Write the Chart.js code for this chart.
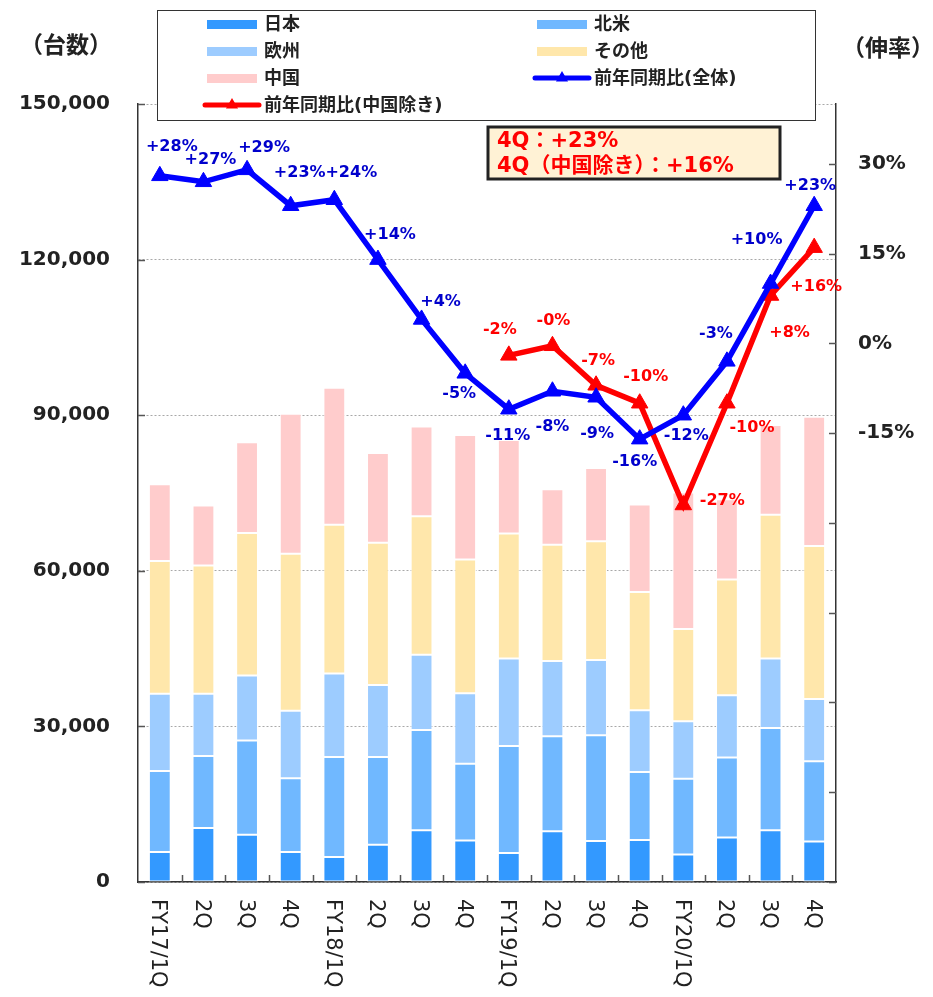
<!DOCTYPE html>
<html lang="ja">
<head>
<meta charset="utf-8">
<title>地域別台数と前年同期比</title>
<script src="https://cdn.jsdelivr.net/npm/chart.js@4.4.1/dist/chart.umd.min.js"></script>
<style>
  html, body { margin: 0; padding: 0; background: #fff; }
  #wrap { position: relative; width: 933px; height: 997px; }
</style>
</head>
<body>
<div id="wrap"><canvas id="chart" width="933" height="997"></canvas></div>
<script>
// ---- Data ------------------------------------------------------------------
const CATEGORIES = ["FY17/1Q", "2Q", "3Q", "4Q", "FY18/1Q", "2Q", "3Q", "4Q",
                    "FY19/1Q", "2Q", "3Q", "4Q", "FY20/1Q", "2Q", "3Q", "4Q"];

const JAPAN         = [5800, 10400, 9100, 5800, 4800, 7200, 10000, 8000, 5600, 9800, 7900, 8100, 5300, 8600, 10000, 7800];
const NORTH_AMERICA = [15600, 13900, 18200, 14200, 19300, 16900, 19300, 14800, 20600, 18300, 20400, 13100, 14600, 15400, 19700, 15500];
const EUROPE        = [14900, 12000, 12500, 13000, 16100, 13900, 14500, 13600, 16900, 14500, 14500, 11900, 11100, 12000, 13400, 12000];
const OTHERS        = [25600, 24700, 27500, 30300, 28700, 27400, 26700, 25800, 24100, 22400, 22900, 22800, 17800, 22300, 27700, 29500];
const CHINA         = [14800, 11600, 17500, 27000, 26400, 17300, 17300, 24000, 18000, 10700, 14100, 16900, 26300, 15500, 17300, 24900];

// 前年同期比 (%)
const YOY_TOTAL    = [28, 27, 29, 23, 24, 14, 4, -5, -11, -8, -9, -16, -12, -3, 10, 23];
const YOY_EX_CHINA = [null, null, null, null, null, null, null, null, -2, -0.4, -7, -10, -27, -10, 8, 16];

const LEFT_TICKS = [0, 30000, 60000, 90000, 120000, 150000];
const RIGHT_TICK_MARKS = [-90, -75, -60, -45, -30, -15, 0, 15, 30];
const RIGHT_TICK_LABELS = [-15, 0, 15, 30];

// label placement relative to each point (px)
const BLUE_LABEL_SHIFT = [[12, -29], [7, -22], [17, -22], [9, -33], [17, -27], [12, -25], [19, -18], [-6, 21],
                          [-1, 27], [0, 36], [1, 37], [-5, 23], [3, 21], [-11, -27], [-14, -44], [-4, -20]];
const RED_LABEL_SHIFT  = [null, null, null, null, null, null, null, null,
                          [-9, -26], [1, -25], [2, -24], [6, -26], [39, -4], [25, 25], [19, 37], [2, 39]];

// ---- Helpers ---------------------------------------------------------------
const FONT = '"DejaVu Sans", "Noto Sans CJK JP", sans-serif';
const INK = "#222";

function fmtPct(v) {
  const sign = v < 0 ? "-" : "+";
  return sign + Math.abs(Math.round(v)) + "%";
}

function triangle(ctx, x, y, r, color) {
  ctx.beginPath();
  for (let k = 0; k < 3; k++) {
    const a = k * 2 * Math.PI / 3;
    const px = x + Math.sin(a) * r, py = y - Math.cos(a) * r;
    k ? ctx.lineTo(px, py) : ctx.moveTo(px, py);
  }
  ctx.closePath();
  ctx.fillStyle = color;
  ctx.fill();
}

function bar(label, data, color) {
  return {
    label, data,
    backgroundColor: color,
    borderColor: "#fff",
    borderWidth: 1,
    borderSkipped: false,
    stack: "units",
    yAxisID: "y",
    order: 2,
    barPercentage: 0.5,
    categoryPercentage: 1,
  };
}

function line(label, data, color, labelColor, shift) {
  return {
    type: "line",
    label, data,
    yAxisID: "y2",
    borderColor: color,
    backgroundColor: color,
    borderWidth: 5.5,
    pointStyle: "triangle",
    pointRadius: 9.5,
    pointHoverRadius: 9.5,
    pointBorderWidth: 1,
    pointBackgroundColor: color,
    pointBorderColor: color,
    spanGaps: false,
    order: 1,
    labelColor,
    labelShift: shift,
  };
}

// ---- Plugin: labels, legend, titles, tick marks ----------------------------
const decor = {
  id: "decor",
  afterDatasetsDraw(chart) {
    const ctx = chart.ctx;
    ctx.save();
    ctx.font = `bold 16px ${FONT}`;
    ctx.textAlign = "center";
    ctx.textBaseline = "middle";
    chart.data.datasets.forEach((ds, di) => {
      if (ds.type !== "line") return;
      const meta = chart.getDatasetMeta(di);
      ds.data.forEach((v, i) => {
        if (v == null) return;
        const pt = meta.data[i];
        const s = ds.labelShift[i] || [0, -20];
        ctx.fillStyle = ds.labelColor;
        ctx.fillText(fmtPct(v), pt.x + s[0], pt.y + s[1]);
      });
    });
    ctx.restore();
  },
  afterDraw(chart) {
    const ctx = chart.ctx;
    const { left, right, bottom } = chart.chartArea;
    const xs = chart.scales.x, ys = chart.scales.y, y2 = chart.scales.y2;
    ctx.save();

    // inward tick marks
    ctx.strokeStyle = "#555";
    ctx.lineWidth = 1.5;
    ctx.beginPath();
    LEFT_TICKS.forEach((v) => {
      const y = Math.round(ys.getPixelForValue(v)) + 0.5;
      ctx.moveTo(left, y); ctx.lineTo(left + 7, y);
    });
    RIGHT_TICK_MARKS.forEach((v) => {
      const y = Math.round(y2.getPixelForValue(v)) + 0.5;
      ctx.moveTo(right - 7, y); ctx.lineTo(right, y);
    });
    for (let i = 1; i < CATEGORIES.length; i++) {
      const x = Math.round((xs.getPixelForValue(i - 1) + xs.getPixelForValue(i)) / 2) + 0.5;
      ctx.moveTo(x, bottom); ctx.lineTo(x, bottom - 7);
    }
    ctx.stroke();

    // x labels, rotated clockwise
    ctx.fillStyle = INK;
    ctx.font = `21px ${FONT}`;
    ctx.textAlign = "left";
    ctx.textBaseline = "middle";
    CATEGORIES.forEach((c, i) => {
      ctx.save();
      ctx.translate(xs.getPixelForValue(i) - 2, bottom + 17);
      ctx.rotate(Math.PI / 2);
      ctx.fillText(c, 0, 0);
      ctx.restore();
    });

    // axis titles
    ctx.font = `bold 23px ${FONT}`;
    ctx.textAlign = "center";
    ctx.fillText("（台数）", 66, 47);
    ctx.fillText("（伸率）", 888, 50);

    // legend box
    ctx.fillStyle = "#fff";
    ctx.fillRect(157, 10, 658, 110);
    ctx.strokeStyle = "#333";
    ctx.lineWidth = 1;
    ctx.strokeRect(157.5, 10.5, 658, 110);
    ctx.font = `bold 18px ${FONT}`;
    ctx.textAlign = "left";
    chart.data.datasets.forEach((ds, i) => {
      const x = i % 2 ? 537 : 207;
      const y = 24 + Math.floor(i / 2) * 27;
      if (ds.type === "line") {
        ctx.strokeStyle = ds.borderColor;
        ctx.lineWidth = 5;
        ctx.lineCap = "round";
        ctx.beginPath();
        ctx.moveTo(x - 2, y); ctx.lineTo(x + 52, y);
        ctx.stroke();
        triangle(ctx, x + 25, y, 7, ds.borderColor);
      } else {
        ctx.fillStyle = ds.backgroundColor;
        ctx.fillRect(x, y - 4, 50, 9);
      }
      ctx.fillStyle = INK;
      ctx.fillText(ds.label, x + 57, y + 1);
    });

    // annotation box
    ctx.fillStyle = "#FFF2D5";
    ctx.fillRect(488, 127, 292, 52);
    ctx.strokeStyle = "#222";
    ctx.lineWidth = 3;
    ctx.strokeRect(488, 127, 292, 52);
    ctx.fillStyle = "#FF0000";
    ctx.font = `bold 21px ${FONT}`;
    ctx.fillText("4Q：" + fmtPct(YOY_TOTAL[YOY_TOTAL.length - 1]), 497, 142);
    ctx.fillText("4Q（中国除き）：" + fmtPct(YOY_EX_CHINA[YOY_EX_CHINA.length - 1]), 497, 167);

    ctx.restore();
  },
};

// ---- Chart -----------------------------------------------------------------
new Chart(document.getElementById("chart"), {
  type: "bar",
  data: {
    labels: CATEGORIES,
    datasets: [
      bar("日本", JAPAN, "#3399FF"),
      bar("北米", NORTH_AMERICA, "#70B8FF"),
      bar("欧州", EUROPE, "#9DCCFF"),
      bar("その他", OTHERS, "#FFE7AB"),
      bar("中国", CHINA, "#FFCCCC"),
      line("前年同期比(全体)", YOY_TOTAL, "#0000FF", "#0000CC", BLUE_LABEL_SHIFT),
      line("前年同期比(中国除き)", YOY_EX_CHINA, "#FF0000", "#FF0000", RED_LABEL_SHIFT),
    ],
  },
  options: {
    responsive: false,
    animation: false,
    devicePixelRatio: 1,
    layout: { padding: { top: 104, left: 0, right: 0, bottom: 0 } },
    plugins: { legend: { display: false }, tooltip: { enabled: false } },
    scales: {
      x: {
        stacked: true,
        grid: { display: false },
        border: { color: "#333", width: 1.5 },
        ticks: { display: false },
        afterFit: (s) => { s.height = 115; },
      },
      y: {
        stacked: true,
        position: "left",
        min: 0,
        max: 150000,
        afterBuildTicks: (s) => { s.ticks = LEFT_TICKS.map((v) => ({ value: v })); },
        grid: { color: "#a8a8a8", lineWidth: 1, drawTicks: false },
        border: { color: "#333", width: 1.5, dash: [2, 2] },
        ticks: {
          padding: 28,
          color: INK,
          font: { family: FONT, size: 20, weight: "bold" },
          callback: (v) => Number(v).toLocaleString("en-US"),
        },
        afterFit: (s) => { s.width = 138; },
      },
      y2: {
        position: "right",
        min: -90,
        max: 40,
        afterBuildTicks: (s) => { s.ticks = RIGHT_TICK_MARKS.map((v) => ({ value: v })); },
        grid: { display: false, drawTicks: false },
        border: { color: "#333", width: 1.5 },
        ticks: {
          padding: 22,
          color: INK,
          font: { family: FONT, size: 20, weight: "bold" },
          callback: (v) => (RIGHT_TICK_LABELS.includes(v) ? v + "%" : ""),
        },
        afterFit: (s) => { s.width = 97; },
      },
    },
  },
  plugins: [decor],
});
</script>
</body>
</html>
